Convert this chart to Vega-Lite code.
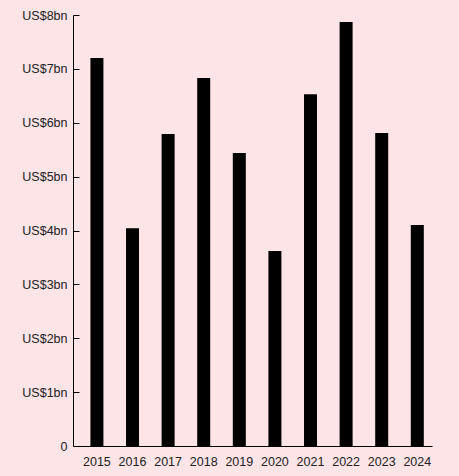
{
  "$schema": "https://vega.github.io/schema/vega-lite/v6.json",
  "width": 359,
  "height": 431,
  "autosize": {"type": "none"},
  "padding": {"left": 73, "top": 15, "right": 27, "bottom": 30},
  "background": "#fce4e7",
  "config": {
    "view": {"stroke": null},
    "font": "Liberation Sans"
  },
  "data": {
    "values": [
      {"year": "2015", "value": 7.20},
      {"year": "2016", "value": 4.04},
      {"year": "2017", "value": 5.79},
      {"year": "2018", "value": 6.83},
      {"year": "2019", "value": 5.44},
      {"year": "2020", "value": 3.62},
      {"year": "2021", "value": 6.53},
      {"year": "2022", "value": 7.87},
      {"year": "2023", "value": 5.81},
      {"year": "2024", "value": 4.10}
    ]
  },
  "mark": {"type": "bar", "color": "#000000"},
  "encoding": {
    "x": {
      "field": "year",
      "type": "ordinal",
      "scale": {"paddingInner": 0.635, "paddingOuter": 0.36, "align": 0.68},
      "axis": {
        "title": null,
        "labelAngle": 0,
        "ticks": false,
        "labelPadding": 9,
        "labelFontSize": 12.5,
        "labelColor": "#222222",
        "domainColor": "#000000",
        "domainWidth": 1,
        "grid": false
      }
    },
    "y": {
      "field": "value",
      "type": "quantitative",
      "scale": {"domain": [0, 8], "nice": false},
      "axis": {
        "title": null,
        "values": [0, 1, 2, 3, 4, 5, 6, 7, 8],
        "labelExpr": "datum.value == 0 ? '0' : 'US$' + datum.value + 'bn'",
        "tickSize": -6,
        "tickColor": "#000000",
        "labelPadding": 12,
        "labelFontSize": 12.5,
        "labelColor": "#222222",
        "domainColor": "#000000",
        "domainWidth": 1,
        "grid": false
      }
    }
  }
}
